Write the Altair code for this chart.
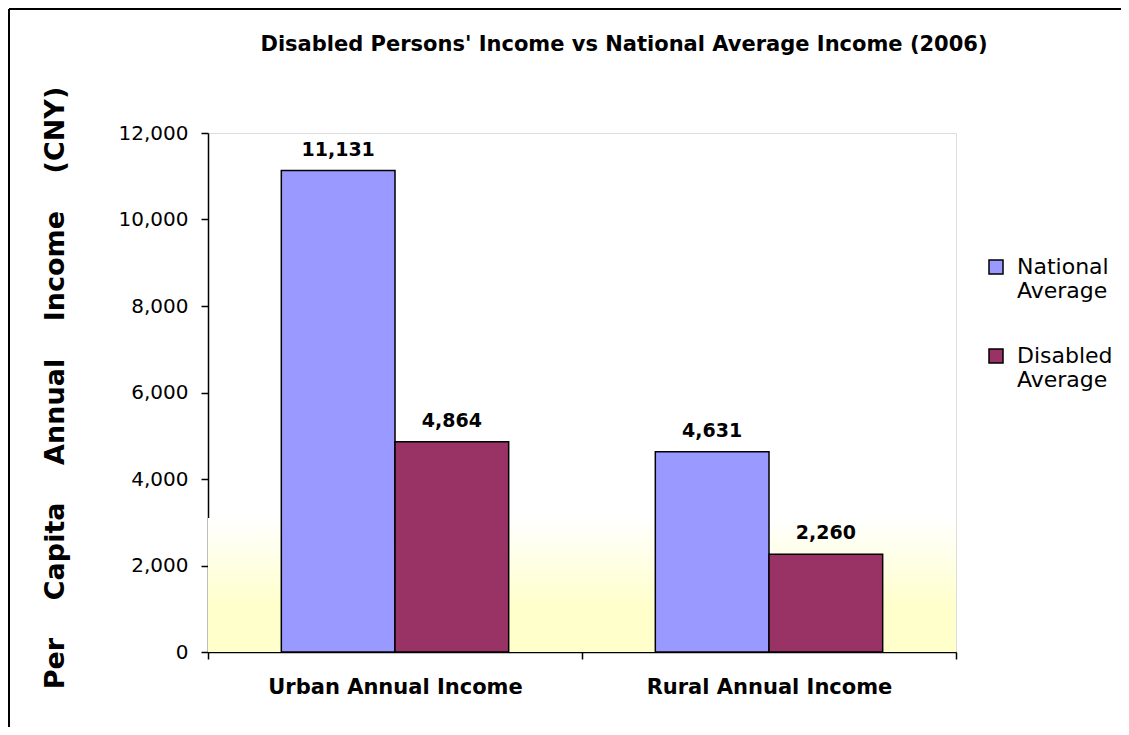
import altair as alt
import pandas as pd

# ---- data ----
categories = ["Urban Annual Income", "Rural Annual Income"]
series = ["National Average", "Disabled Average"]
national = [11131, 4631]
disabled = [4864, 2260]
y_ticks = [0, 2000, 4000, 6000, 8000, 10000, 12000]
colors = ["#9999FF", "#993366"]
title_text = "Disabled Persons' Income vs National Average Income (2006)"
y_words = ["Per", "Capita", "Annual", "Income", "(CNY)"]

rows = []
for i, c in enumerate(categories):
    rows.append({"category": c, "series": series[0], "value": national[i]})
    rows.append({"category": c, "series": series[1], "value": disabled[i]})
df = pd.DataFrame(rows)

W, H = 748, 519
NB = "\u00a0"
y_title = (NB * 4).join(y_words)
FONT = "DejaVu Sans"

y_axis = alt.Axis(
    values=y_ticks, labelExpr="format(datum.value, ',')", grid=False, title=y_title,
    labelFont=FONT, labelFontSize=20, labelColor="black", labelPadding=13,
    tickSize=7, tickColor="black", tickWidth=1.5, domainColor="black", domainWidth=1.5,
    titleFont=FONT, titleFontSize=27, titleFontWeight="bold", titleColor="black",
    titleAngle=-90, titleX=-145, titleY=H / 2 - 5, titleAlign="center",
    titleBaseline="alphabetic",
)
y_scale = alt.Scale(domain=[0, 12000])

x_enc = alt.X(
    "category:N", sort=categories,
    scale=alt.Scale(paddingInner=0, paddingOuter=0),
    axis=alt.Axis(
        title=None, tickBand="extent", labelAngle=0, labelFont=FONT,
        labelFontWeight="bold", labelFontSize=21, labelColor="black",
        labelBaseline="alphabetic", labelPadding=34, tickSize=7,
        tickColor="black", tickWidth=1.5, domainColor="black", domainWidth=1.5,
        labelLimit=400,
    ),
)
xoff = alt.XOffset(
    "series:N", sort=series,
    scale=alt.Scale(domain=series, paddingOuter=0.645, paddingInner=0),
)

base = alt.Chart(df)

background = alt.Chart(pd.DataFrame({"a": [0]})).mark_rect(
    fill=alt.LinearGradient(
        gradient="linear", x1=0, x2=0, y1=1, y2=0,
        stops=[
            alt.GradientStop(color="#FFFFCC", offset=0),
            alt.GradientStop(color="#FFFFCC", offset=0.35),
            alt.GradientStop(color="#FFFFFF", offset=1),
        ],
    )
).encode(
    x=alt.value(0), x2=alt.value("width"),
    y=alt.Y(datum=0, type="quantitative", scale=y_scale, axis=y_axis),
    y2=alt.Y2(datum=3100),
)

bars = base.mark_bar(stroke="black", strokeWidth=1.5).encode(
    x=x_enc, xOffset=xoff,
    y=alt.Y("value:Q", scale=y_scale, axis=y_axis),
    color=alt.Color(
        "series:N", sort=series,
        scale=alt.Scale(domain=series, range=colors),
        legend=alt.Legend(
            orient="none", legendX=777, legendY=123, title=None,
            symbolType="square", symbolSize=196, symbolStrokeColor="black",
            symbolStrokeWidth=1.5, labelFont=FONT, labelFontSize=22,
            labelColor="black", labelBaseline="middle", labelOffset=10,
            labelLimit=300, rowPadding=43,
            labelExpr="split(datum.label, ' ')",
        ),
    ),
)

labels = base.mark_text(
    font=FONT, fontWeight="bold", fontSize=19, baseline="alphabetic",
    dy=-15, color="black",
).encode(
    x=x_enc, xOffset=xoff,
    y=alt.Y("value:Q", scale=y_scale, axis=y_axis),
    text=alt.Text("value:Q", format=","),
)

border_top = alt.Chart(pd.DataFrame({"a": [0]})).mark_rule(
    color="black", strokeWidth=2
).encode(x=alt.value(-199), x2=alt.value(W + 170), y=alt.value(-124))
border_left = alt.Chart(pd.DataFrame({"a": [0]})).mark_rule(
    color="black", strokeWidth=2
).encode(x=alt.value(-199), y=alt.value(-124), y2=alt.value(H + 80))

chart = alt.layer(background, bars, labels, border_top, border_left).properties(
    width=W, height=H,
    autosize=alt.AutoSizeParams(type="none"),
    padding={"left": 200, "top": 125, "right": 165, "bottom": 75},
    title=alt.TitleParams(
        text=title_text, font=FONT, fontSize=21, fontWeight="bold",
        color="black", anchor="middle", dx=42, offset=-64,
        baseline="alphabetic",
    ),
).configure_view(stroke=None).configure(background="white")

chart.save("out.html", embed_options={"renderer": "svg", "actions": False})
